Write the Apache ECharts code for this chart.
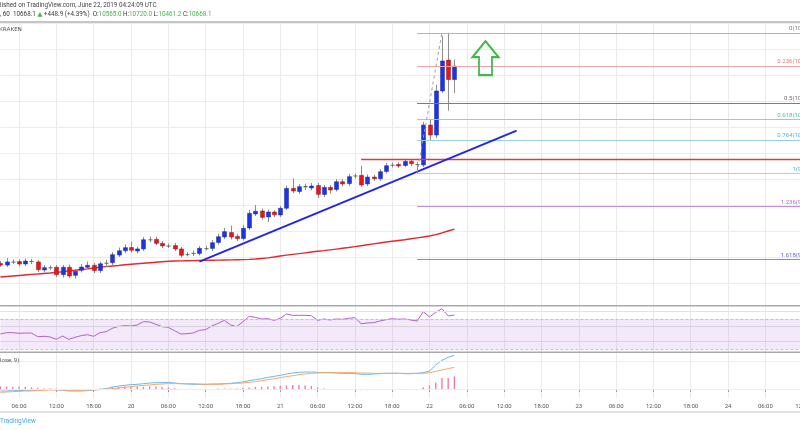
<!DOCTYPE html>
<html><head><meta charset="utf-8">
<script src="https://cdn.jsdelivr.net/npm/echarts@6/dist/echarts.min.js"></script>
<style>html,body{margin:0;padding:0;background:#fff}#c{width:800px;height:430px}</style>
</head><body><div id="c"></div>
<script>
// ---------- data (hourly candles, KRAKEN, from 19 03:00 UTC) ----------
const candleOpen = [9150,9138,9162,9165,9146,9169,9162,9100,9118,9121,
  9064,9121,9059,9098,9121,9136,9095,9148,9156,9215,
  9248,9273,9246,9262,9333,9336,9305,9285,9288,9262,
  9215,9232,9227,9265,9266,9312,9354,9388,9358,9342,
  9423,9531,9554,9508,9546,9523,9575,9728,9704,9746,
  9731,9750,9681,9736,9719,9779,9765,9823,9828,9762,
  9815,9802,9858,9904,9912,9904,9936,9915,9908,10215,
  10138,10477,10715,10565];
const candleClose = [9138,9162,9165,9146,9169,9162,9102,9118,9121,9064,
  9121,9054,9090,9123,9136,9095,9148,9156,9218,9248,
  9272,9252,9262,9333,9336,9305,9285,9288,9262,9213,
  9222,9225,9267,9268,9310,9356,9395,9354,9341,9421,
  9536,9552,9505,9546,9525,9575,9728,9708,9741,9736,
  9746,9682,9736,9715,9779,9762,9818,9827,9754,9815,
  9802,9856,9902,9910,9900,9935,9918,9912,10215,10138,
  10477,10708,10565,10668.1];
const candleHigh = [9169,9192,9181,9181,9189,9185,9177,9138,9135,9138,
  9138,9142,9108,9146,9165,9154,9165,9177,9238,9273,
  9296,9318,9277,9354,9358,9356,9323,9304,9308,9277,
  9238,9250,9285,9285,9331,9377,9423,9441,9377,9446,
  9562,9600,9573,9565,9562,9592,9750,9805,9762,9765,
  9769,9769,9754,9754,9800,9800,9838,9842,9902,9835,
  9831,9877,9923,9927,9931,9954,9954,9931,10238,10254,
  10523,10900,10925,10720];
const candleLow = [9123,9123,9146,9131,9131,9146,9085,9081,9100,9046,
  9042,9038,9035,9081,9108,9077,9077,9123,9138,9200,
  9231,9235,9227,9246,9315,9292,9269,9269,9246,9196,
  9204,9208,9212,9250,9246,9296,9338,9335,9323,9327,
  9408,9515,9488,9469,9508,9508,9562,9692,9685,9715,
  9712,9654,9662,9688,9704,9742,9746,9802,9741,9746,
  9785,9785,9842,9888,9885,9892,9900,9846,9892,10095,
  10115,10462,10325,10461.2];
const maLine = [9046,9050,9054,9058,9062,9066,9069,9073,9077,9082,
  9087,9093,9098,9104,9109,9115,9121,9126,9131,9135,
  9140,9144,9148,9152,9156,9160,9164,9167,9169,9170,
  9171,9172,9173,9174,9175,9176,9177,9178,9179,9180,
  9182,9185,9189,9193,9200,9208,9214,9220,9226,9232,
  9238,9244,9249,9255,9261,9267,9273,9280,9287,9294,
  9301,9308,9315,9321,9327,9333,9340,9347,9354,9362,
  9372,9385,9400,9415];
const rsiValues = [50,51.8,51.8,50.9,51.3,51.3,46.4,46.9,46,42.9,
  47.3,42.9,45.6,47.8,49.1,46.9,51.8,53.1,57.6,60.2,
  61.1,60.7,62,66.4,66,62.9,59.8,58.9,54.4,50,
  50.4,51.3,54.9,55.8,60.7,64.2,68.2,62,59.8,66.4,
  73.6,72.2,70,70.4,68.2,70.9,76.7,74.9,74.9,74.9,
  74.4,68.2,70,68.7,70,69.6,70.9,71.8,63.8,64.7,
  65.1,67.3,69.1,70.4,69.6,70,68.7,67.3,79.8,72.7,
  78.9,83.8,74,75.3];
const macdValues = [-10,-10,-8.3,-8.3,-6.7,-6.7,-5,-3.3,-1.7,-3.3,
  -6.7,-10,-10,-10,-8.3,-5,-1.7,1.7,10,15,
  18.3,21.7,23.3,26.7,30,31.7,31.7,33.3,30,26.7,
  25,23.3,23.3,23.3,25,25,26.7,28.3,31.7,35,
  41.7,46.7,51.7,58.3,63.3,68.3,75,80,83.3,85,
  85,83.3,81.7,81.7,80,78.3,78.3,76.7,73.3,73.3,
  75,76.7,78.3,78.3,78.3,76.7,76.7,78.3,81.7,90,
  120,143.3,158.3,168.3];
const signalValues = [-16.7,-15,-13.3,-11.7,-10,-10,-8.3,-6.7,-5,-5,
  -5,-6.7,-6.7,-6.7,-5,-5,-3.3,-1.7,1.7,5,
  8.3,11.7,15,18.3,20,23.3,25,26.7,26.7,26.7,
  26.7,26.7,25,23.3,23.3,23.3,25,26.7,28.3,30,
  33.3,36.7,41.7,46.7,51.7,56.7,61.7,66.7,71.7,75,
  78.3,80,81.7,81.7,81.7,81.7,81.7,81.7,80,80,
  78.3,78.3,78.3,78.3,78.3,78.3,78.3,78.3,78.3,81.7,
  88.3,95,101.7,108.3];
const histValues = [12,12,11,11,10,8,6,4,3,2,
  -1,-2,-3,-3,-2,0,2,3,8,10,
  12,13,12,12,13,12,10,8,4,0,
  -2,-3,-3,-2,0,2,2,2,3,5,
  8,10,11,13,14,16,18,20,20,18,
  15,8,2,0,-1,-3,-3,-4,-6,-6,
  -4,-2,0,0,0,-1,-1,0,8,18,
  33,55,55,63];
const fibLevels = ['0','0.236','0.5','0.618','0.764','1','1.236','1.618'];
const fibPrices = [10925,10670.4,10385.5,10258.2,10100.6,9846,9591.4,9179.2];
const resistancePrice = 9955;
const trendStart = [32, 9165], trendEnd = [83, 10172];
const fibAnchorLow = [67, 9846], fibAnchorHigh = [71, 10925];
const arrowAt = [78, 10730];

// time categories: hourly from 19 June 03:00
const times = [];
for (let i = 0; i < 136; i++) {
  const t = 3 + i, d = 19 + Math.floor(t / 24), h = t % 24;
  times.push(d + ' ' + String(h).padStart(2, '0') + ':00');
}
const candleData = candleOpen.map((o, i) => [i, o, candleClose[i], candleLow[i], candleHigh[i]]);

// ---------- styles ----------
const FONT = 'Roboto, "DejaVu Sans", sans-serif';
const fibLineColors = ['#b4b4b4','#f3a3a3','#8f6f8f','#7fdcb8','#9ccfe8','#a7d6ef','#c58be0','#8585dc'];
const fibTextColors = ['#7a7a7a','#e87878','#7a6a7a','#46c48c','#5aaede','#5aaede','#b26ad6','#6666d0'];
const FIB_END = 132;
const showHour = (idx) => (3 + idx) % 6 === 0;

function renderCandle(params, api) {
  const i = api.value(0), o = api.value(1), c = api.value(2), l = api.value(3), h = api.value(4);
  const pO = api.coord([i, o]), pC = api.coord([i, c]), pL = api.coord([i, l]), pH = api.coord([i, h]);
  const cx = Math.round(pO[0]) + 0.5;
  const top = Math.min(pO[1], pC[1]);
  const diff = Math.abs(pO[1] - pC[1]);
  const flat = diff < 1.5;
  const up = c > o;
  const fill = flat ? '#4d6e5c' : (up ? '#1c33e6' : '#e9141d');
  return { type: 'group', children: [
    { type: 'line', shape: { x1: cx, y1: pH[1], x2: cx, y2: pL[1] }, style: { stroke: '#8d8d8d', lineWidth: 1 } },
    { type: 'rect', shape: { x: cx - 2, y: top, width: 4, height: Math.max(1, diff) },
      style: { fill: fill, stroke: flat ? null : (up ? '#1a2a9a' : '#9a1010'), lineWidth: 0.5 } }
  ]};
}

const fibLines = fibPrices.map((p, k) => [
  { coord: [fibAnchorLow[0], p], lineStyle: { color: fibLineColors[k], width: 1, type: 'solid' },
    label: { show: true, position: 'insideEndTop', distance: [3, 1], formatter: fibLevels[k] + '(' + p.toFixed(1) + ')',
             color: fibTextColors[k], fontSize: 6, fontFamily: FONT } },
  { coord: [FIB_END, p] }
]);
const drawnLines = fibLines.concat([
  [{ coord: [58, resistancePrice], lineStyle: { color: '#e53935', width: 1.3, type: 'solid' }, label: { show: false } },
   { coord: [FIB_END, resistancePrice] }],
  [{ coord: trendStart, lineStyle: { color: '#2626e0', width: 2, type: 'solid' }, label: { show: false } },
   { coord: trendEnd }],
  [{ coord: fibAnchorLow, lineStyle: { color: '#a0a0a0', width: 1, type: [3, 3] }, label: { show: false } },
   { coord: fibAnchorHigh }]
]);

function xAxisFor(gridIndex, bottom) {
  return {
    type: 'category', gridIndex, data: times, boundaryGap: false,
    axisLine: { show: bottom, lineStyle: { color: '#9e9e9e', width: 1 } },
    axisTick: { show: bottom, interval: showHour, length: 3, lineStyle: { color: '#9e9e9e' } },
    axisLabel: { show: bottom, interval: showHour, color: '#555', fontSize: 6, fontFamily: FONT, margin: 5,
      hideOverlap: false,
      formatter: v => { const s = v.split(' '); return s[1] === '00:00' ? s[0] : s[1]; } },
    splitLine: { show: true, interval: showHour, lineStyle: { color: '#ebebeb', width: 1 } }
  };
}
const hiddenY = (gridIndex, min, max) => ({
  type: 'value', gridIndex, min, max, position: 'right',
  axisLine: { show: false }, axisTick: { show: false }, axisLabel: { show: false }, splitLine: { show: false }
});

const GRID_W = 839.6;
const gridBase = { left: 0.4, width: GRID_W, containLabel: false, outerBoundsMode: 'none' };
const chart = echarts.init(document.getElementById('c'), null, { renderer: 'canvas' });
chart.setOption({
  animation: false,
  backgroundColor: '#ffffff',
  grid: [
    Object.assign({ top: 23, height: 286 }, gridBase),
    Object.assign({ top: 306, height: 46 }, gridBase),
    Object.assign({ top: 352, height: 46 }, gridBase)
  ],
  xAxis: [xAxisFor(0, false), xAxisFor(1, false), xAxisFor(2, true)],
  yAxis: [
    { type: 'value', gridIndex: 0, min: 8800, max: 11000, interval: 200, position: 'right',
      axisLine: { show: false }, axisTick: { show: false }, axisLabel: { show: false },
      splitLine: { show: true, showMinLine: false, lineStyle: { color: '#ececec' } } },
    hiddenY(1, 26, 87.33),
    hiddenY(2, -45, 185)
  ],
  series: [
    { type: 'custom', name: 'XBTUSD', xAxisIndex: 0, yAxisIndex: 0, data: candleData,
      encode: { x: 0, y: [1, 2, 3, 4] }, renderItem: renderCandle, clip: true, z: 3 },
    { type: 'line', name: 'MA', xAxisIndex: 0, yAxisIndex: 0, data: maLine, showSymbol: false, symbol: 'none',
      lineStyle: { color: '#e8262c', width: 1.4 }, z: 2, silent: true,
      markLine: { silent: true, symbol: 'none', animation: false, emphasis: { disabled: true }, data: drawnLines },
      markPoint: { silent: true, animation: false, data: [{
        coord: arrowAt, symbol: 'path://M13,0 L26,16 L19.5,16 L19.5,34 L6.5,34 L6.5,16 L0,16 Z',
        symbolSize: [26, 34], symbolKeepAspect: false,
        itemStyle: { color: 'rgba(255,255,255,0)', borderColor: '#42b64b', borderWidth: 2 },
        label: { show: false } }] } },
    { type: 'line', name: 'RSI', xAxisIndex: 1, yAxisIndex: 1, data: rsiValues, showSymbol: false, symbol: 'none',
      lineStyle: { color: '#b15fd1', width: 1 }, silent: true, z: 3,
      markArea: { silent: true, itemStyle: { color: 'rgba(175,100,225,0.14)' }, data: [[{ yAxis: 30 }, { yAxis: 70 }]] },
      markLine: { silent: true, symbol: 'none', label: { show: false }, emphasis: { disabled: true }, data: [
        { yAxis: 80, lineStyle: { color: '#e3e3e3', type: 'solid', width: 1 } },
        { yAxis: 60, lineStyle: { color: '#d9d3de', type: 'solid', width: 1 } },
        { yAxis: 40, lineStyle: { color: '#d9d3de', type: 'solid', width: 1 } },
        { yAxis: 70, lineStyle: { color: '#c9bcd3', type: [3, 2], width: 1 } },
        { yAxis: 30, lineStyle: { color: '#c9bcd3', type: [3, 2], width: 1 } }
      ] } },
    { type: 'bar', name: 'Histogram', xAxisIndex: 2, yAxisIndex: 2, data: histValues, barWidth: 1.4,
      itemStyle: { color: '#f27ca0' }, silent: true, z: 2,
      markLine: { silent: true, symbol: 'none', label: { show: false }, emphasis: { disabled: true }, data: [
        { yAxis: 0, lineStyle: { color: '#ececec', type: 'solid', width: 1 } },
        { yAxis: 140, lineStyle: { color: '#ececec', type: 'solid', width: 1 } }
      ] } },
    { type: 'line', name: 'MACD', xAxisIndex: 2, yAxisIndex: 2, data: macdValues, showSymbol: false, symbol: 'none',
      lineStyle: { color: '#66b8f2', width: 1 }, silent: true, z: 3 },
    { type: 'line', name: 'Signal', xAxisIndex: 2, yAxisIndex: 2, data: signalValues, showSymbol: false, symbol: 'none',
      lineStyle: { color: '#f6a86a', width: 1 }, silent: true, z: 3 }
  ],
  graphic: [
    { type: 'line', z: 100, shape: { x1: 0, y1: 22, x2: 800, y2: 22 }, style: { stroke: '#b3b3b3', lineWidth: 1.5 } },
    { type: 'line', z: 100, shape: { x1: 0, y1: 305.7, x2: 800, y2: 305.7 }, style: { stroke: '#a9a9a9', lineWidth: 1.5 } },
    { type: 'line', z: 100, shape: { x1: 0, y1: 352.3, x2: 800, y2: 352.3 }, style: { stroke: '#a9a9a9', lineWidth: 1.5 } },
    { type: 'line', z: 100, shape: { x1: 0, y1: 412, x2: 800, y2: 412 }, style: { stroke: '#c2c2c2', lineWidth: 1 } },
    { type: 'text', z: 100, style: { x: 0, y: 2.5, text: 'lished on TradingView.com, June 22, 2019 04:24:09 UTC',
      fill: '#444', fontSize: 6.3, fontFamily: FONT } },
    { type: 'text', z: 100, style: { x: 0, y: 11.3,
      text: '{d|, 60  10668.1 }{g|▲}{d| +448.9 (+4.39%)  O:}{g|10565.0}{d| H:}{g|10720.0}{d| L:}{g|10461.2}{d| C:}{g|10668.1}',
      rich: { d: { fill: '#3a3a3a', fontSize: 6.3, fontFamily: FONT }, g: { fill: '#45b34f', fontSize: 6.3, fontFamily: FONT } } } },
    { type: 'text', z: 100, style: { x: -1, y: 26.5, text: 'KRAKEN', fill: '#555', fontSize: 6, fontFamily: FONT } },
    { type: 'text', z: 100, style: { x: 0, y: 357.5, text: 'lose, 9)', fill: '#555', fontSize: 6, fontFamily: FONT } },
    { type: 'text', z: 100, style: { x: 0, y: 418, text: 'TradingView', fill: '#4aa7e2', fontSize: 6.5, fontFamily: FONT } }
  ]
});
</script>
</body></html>
